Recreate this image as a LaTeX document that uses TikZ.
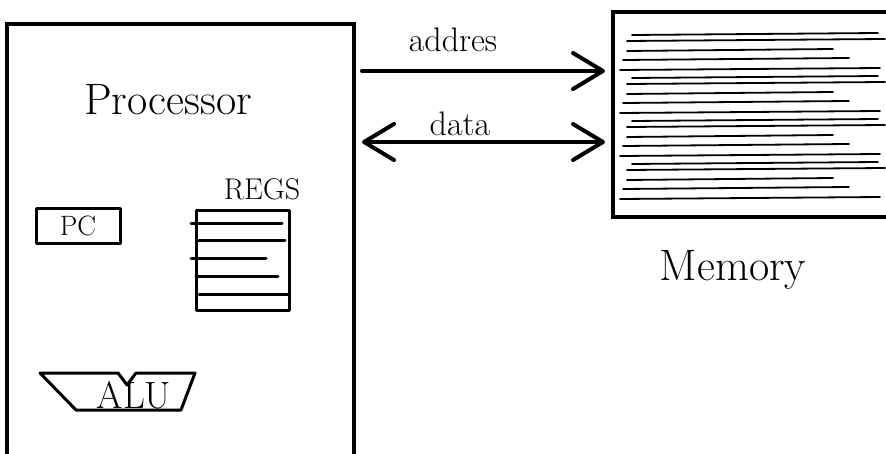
\documentclass[tikz,border=0pt]{standalone}
\usetikzlibrary{arrows.meta,positioning}

\begin{document}
\begin{tikzpicture}[
    x=1pt, y=-1pt,
    >={Straight Barb[length=30pt,width=36pt,round]},
    box/.style={draw, line width=4pt, outer sep=0pt, inner sep=0pt},
    part/.style={draw, line width=3pt, line cap=round, line join=round,
      outer sep=0pt, inner sep=0pt},
    row/.style={line width=1.8pt, line cap=round},
    bus/.style={line width=4pt, line cap=round, shorten <=8pt, shorten >=8pt},
    hand/.style={font=\fontsize{#1}{#1}\selectfont},
    hand/.default=34
  ]
  \useasboundingbox (0,0) rectangle (886,454);

  % processor and memory
  \node[box, minimum width=347pt, minimum height=460pt] (proc) at (180.5,254) {};
  \node[box, minimum width=279pt, minimum height=205pt] (mem) at (752.5,114.5) {};
  \node[hand=44] (procname) at (168,100) {Processor};
  \node[hand=44] (memname) at (733,270) {Memory};

  % memory words
  \foreach \g in {0,...,3}
    \foreach \dy/\xa/\xb in {0/632/878, 6/627/885, 16/627/833, 25/623/849, 35/620/880}
      \draw[row] (\xa,34+43*\g+\dy+1) -- (\xb,34+43*\g+\dy-1);

  % buses
  \coordinate (addrY) at (0,71);
  \coordinate (dataY) at (0,142);
  \node[hand] (addr) at (453,40) {addres};
  \node[hand] (data) at (460,124) {data};
  \draw[bus, ->] (proc.east |- addrY) -- (mem.west |- addrY);
  \draw[bus, <->] (proc.east |- dataY) -- (mem.west |- dataY);

  % inside the processor
  \node[part, minimum width=84pt, minimum height=35pt, hand=28] (pc) at (78,226) {PC};

  \node[part, minimum width=93pt, minimum height=100pt] (regs) at (243,261) {};
  \node[hand=30] (regsname) at (262,189) {REGS};
  \foreach \y/\xa/\xb in {224/191/282, 241/197/285, 259/191/266, 277/196/278, 295/199/288}
    \draw[part] (\xa,\y) -- (\xb,\y);

  \node[hand=38] (alu) at (134,395) {ALU};
  \draw[part] (40,373) -- (118,373) -- (127,385) -- (136,373) -- (195,373)
    -- (181,410) -- (76,410) -- cycle;
\end{tikzpicture}
\end{document}
